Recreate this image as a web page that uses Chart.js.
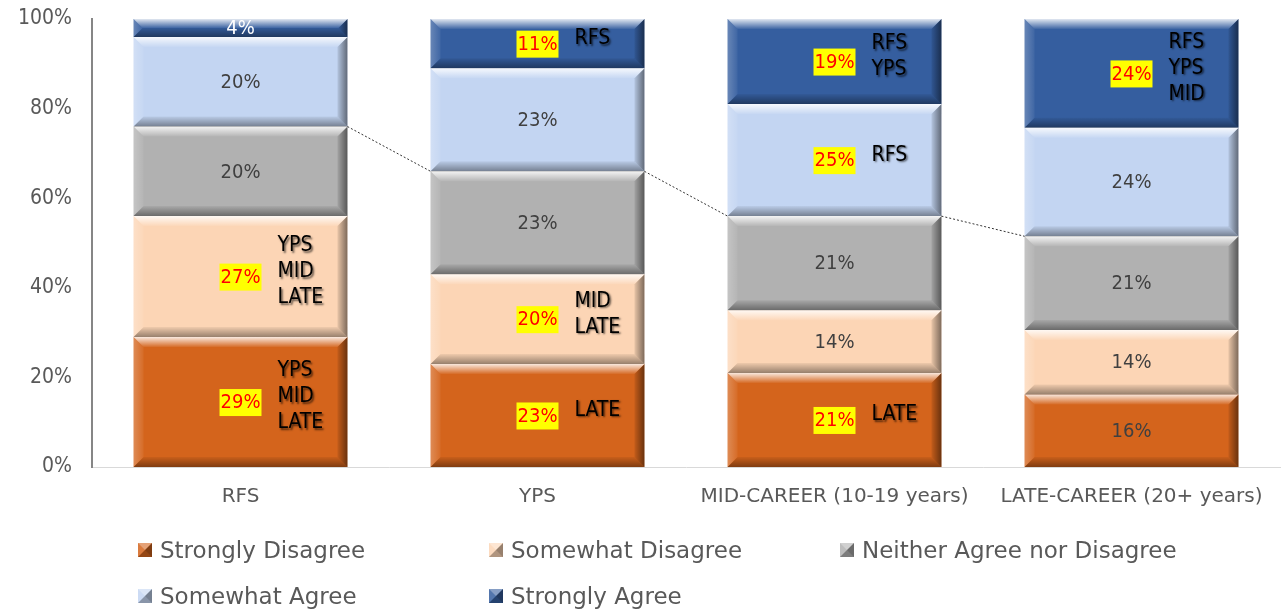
<!DOCTYPE html>
<html>
<head>
<meta charset="utf-8">
<script src="https://cdn.jsdelivr.net/npm/chart.js@4.4.1/dist/chart.umd.min.js"></script>
<style>
  html, body { margin: 0; padding: 0; background: #fff; }
  #wrap { position: relative; width: 1281px; height: 611px; }
  #chart { position: absolute; left: 0; top: 0; }
  .lg { position: absolute; display: flex; align-items: center; height: 30px;
        font-family: 'DejaVu Sans', sans-serif; font-size: 23px; color: #595959; white-space: nowrap; }
  .lg i { display: inline-block; width: 0; height: 0; border-style: solid; border-width: 7px; margin-right: 8px; }
</style>
</head>
<body>
<div id="wrap">
  <canvas id="chart" width="1281" height="611"></canvas>
</div>
<script>
const categories = ['RFS', 'YPS', 'MID-CAREER (10-19 years)', 'LATE-CAREER (20+ years)'];
const seriesNames = ['Strongly Disagree', 'Somewhat Disagree', 'Neither Agree nor Disagree', 'Somewhat Agree', 'Strongly Agree'];
const stronglyDisagree = [29, 23, 21, 16.2];
const somewhatDisagree = [27, 20, 14, 14.4];
const neitherAgree = [20, 23, 21, 20.9];
const somewhatAgree = [20, 23, 25, 24.2];
const stronglyAgree = [4, 11, 19, 24.3];
// groups each highlighted value differs from
const sdNotes = [['YPS', 'MID', 'LATE'], ['LATE'], ['LATE'], []];
const swdNotes = [['YPS', 'MID', 'LATE'], ['MID', 'LATE'], [], []];
const neitherNotes = [[], [], [], []];
const saNotes = [[], [], ['RFS'], []];
const staNotes = [[], ['RFS'], ['RFS', 'YPS'], ['RFS', 'YPS', 'MID']];
const yTicks = [0, 20, 40, 60, 80, 100];

const FONT = "'DejaVu Sans Condensed', 'DejaVu Sans', sans-serif";
const colors = ['#D4641C', '#FCD5B5', '#B1B1B1', '#C3D5F2', '#355E9F'];
const labelColors = ['#404040', '#404040', '#404040', '#404040', '#FFFFFF'];

Chart.defaults.font.family = FONT;

const bars = {
  id: 'bars',
  afterDatasetsDraw(chart) {
    const ctx = chart.ctx;
    const metas = chart.data.datasets.map((d, i) => chart.getDatasetMeta(i));

    // bevel edges
    metas.forEach(meta => {
      meta.data.forEach(bar => {
        const p = bar.getProps(['x', 'y', 'base', 'width'], true);
        const l = p.x - p.width / 2, r = p.x + p.width / 2;
        const t = Math.min(p.y, p.base), b = Math.max(p.y, p.base);
        const e = Math.min(10, (b - t) / 2);
        ctx.save();
        let g = ctx.createLinearGradient(l, 0, l + e, 0);
        g.addColorStop(0, 'rgba(255,255,255,0.25)');
        g.addColorStop(1, 'rgba(255,255,255,0.05)');
        ctx.fillStyle = g;
        ctx.beginPath(); ctx.moveTo(l, t); ctx.lineTo(l + e, t + e); ctx.lineTo(l + e, b - e); ctx.lineTo(l, b); ctx.closePath(); ctx.fill();
        g = ctx.createLinearGradient(r - e, 0, r, 0);
        g.addColorStop(0, 'rgba(0,0,0,0.08)');
        g.addColorStop(1, 'rgba(0,0,0,0.5)');
        ctx.fillStyle = g;
        ctx.beginPath(); ctx.moveTo(r, t); ctx.lineTo(r - e, t + e); ctx.lineTo(r - e, b - e); ctx.lineTo(r, b); ctx.closePath(); ctx.fill();
        g = ctx.createLinearGradient(0, t, 0, t + e);
        g.addColorStop(0, 'rgba(255,255,255,0.85)');
        g.addColorStop(0.5, 'rgba(255,255,255,0.45)');
        g.addColorStop(1, 'rgba(255,255,255,0.05)');
        ctx.fillStyle = g;
        ctx.beginPath(); ctx.moveTo(l, t); ctx.lineTo(r, t); ctx.lineTo(r - e, t + e); ctx.lineTo(l + e, t + e); ctx.closePath(); ctx.fill();
        g = ctx.createLinearGradient(0, b - e, 0, b);
        g.addColorStop(0, 'rgba(0,0,0,0.05)');
        g.addColorStop(1, 'rgba(0,0,0,0.4)');
        ctx.fillStyle = g;
        ctx.beginPath(); ctx.moveTo(l, b); ctx.lineTo(r, b); ctx.lineTo(r - e, b - e); ctx.lineTo(l + e, b - e); ctx.closePath(); ctx.fill();
        ctx.restore();
      });
    });

    // series lines on top of the neutral segment
    const mid = metas[2].data;
    ctx.save();
    ctx.strokeStyle = '#333';
    ctx.lineWidth = 1;
    ctx.setLineDash([2, 2]);
    for (let i = 0; i < mid.length - 1; i++) {
      const a = mid[i], c = mid[i + 1];
      ctx.beginPath();
      ctx.moveTo(a.x + a.width / 2, a.y);
      ctx.lineTo(c.x - c.width / 2, c.y);
      ctx.stroke();
    }
    ctx.restore();

    // data labels
    metas.forEach((meta, di) => {
      const ds = chart.data.datasets[di];
      meta.data.forEach((bar, i) => {
        const v = ds.data[i];
        const txt = Math.round(v) + '%';
        const cy = (bar.y + bar.base) / 2;
        const notes = ds.notes[i];
        ctx.save();
        ctx.textBaseline = 'middle';
        if (notes.length) {
          ctx.font = '20px ' + FONT;
          const w = ctx.measureText(txt).width + 2;
          ctx.fillStyle = '#FFFF00';
          ctx.fillRect(bar.x - w / 2, cy - 13, w, 27);
          ctx.fillStyle = '#FF0000';
          ctx.textAlign = 'center';
          ctx.fillText(txt, bar.x, cy + 1);
          ctx.font = '21px ' + FONT;
          ctx.textAlign = 'left';
          ctx.fillStyle = '#000';
          ctx.shadowColor = 'rgba(0,0,0,0.6)';
          ctx.shadowOffsetX = 1.5;
          ctx.shadowOffsetY = 1.5;
          ctx.shadowBlur = 2;
          const lh = 26;
          const y0 = cy - 5 - (notes.length - 1) * lh / 2;
          notes.forEach((n, k) => ctx.fillText(n, bar.x + 37, y0 + k * lh));
        } else {
          ctx.font = '20px ' + FONT;
          ctx.fillStyle = labelColors[di];
          ctx.textAlign = 'center';
          ctx.fillText(txt, bar.x, cy + 1);
        }
        ctx.restore();
      });
    });
  }
};

const seriesData = [stronglyDisagree, somewhatDisagree, neitherAgree, somewhatAgree, stronglyAgree];
const seriesNotes = [sdNotes, swdNotes, neitherNotes, saNotes, staNotes];

const chart = new Chart(document.getElementById('chart'), {
  type: 'bar',
  data: {
    labels: categories,
    datasets: seriesNames.map((name, i) => ({
      label: name,
      data: seriesData[i],
      notes: seriesNotes[i],
      backgroundColor: colors[i],
      borderWidth: 0,
      barPercentage: 0.72,
      categoryPercentage: 1
    }))
  },
  options: {
    responsive: false,
    animation: false,
    layout: { padding: { top: 19, right: 1, left: 0, bottom: 0 } },
    plugins: { legend: { display: false }, tooltip: { enabled: false } },
    scales: {
      x: {
        stacked: true,
        grid: { display: false, drawTicks: false },
        border: { color: '#D9D9D9', width: 1 },
        ticks: { color: '#595959', font: { size: 20, family: "'DejaVu Sans', sans-serif" }, padding: 18, maxRotation: 0 },
        afterFit(s) { s.height = 144; }
      },
      y: {
        stacked: true,
        min: 0,
        max: 100,
        grid: { display: false, drawTicks: false },
        border: { color: '#868686', width: 2 },
        afterBuildTicks(s) { s.ticks = yTicks.map(v => ({ value: v })); },
        ticks: { color: '#595959', font: { size: 21 }, padding: 20, callback: v => v + '%' },
        afterFit(s) { s.width = 92; s.paddingTop = 10; s.paddingBottom = 10; }
      }
    }
  },
  plugins: [bars]
});

// legend in three columns
const wrap = document.getElementById('wrap');
chart.data.datasets.forEach((ds, i) => {
  const col = i % 3, row = Math.floor(i / 3);
  const el = document.createElement('div');
  el.className = 'lg';
  el.style.left = (138 + col * 351) + 'px';
  el.style.top = (535 + row * 46) + 'px';
  const m = document.createElement('i');
  const c = ds.backgroundColor;
  m.style.borderColor = `color-mix(in srgb, ${c} 60%, white) color-mix(in srgb, ${c} 60%, black) color-mix(in srgb, ${c} 70%, black) color-mix(in srgb, ${c} 85%, white)`;
  el.appendChild(m);
  el.appendChild(document.createTextNode(ds.label));
  wrap.appendChild(el);
});
</script>
</body>
</html>
